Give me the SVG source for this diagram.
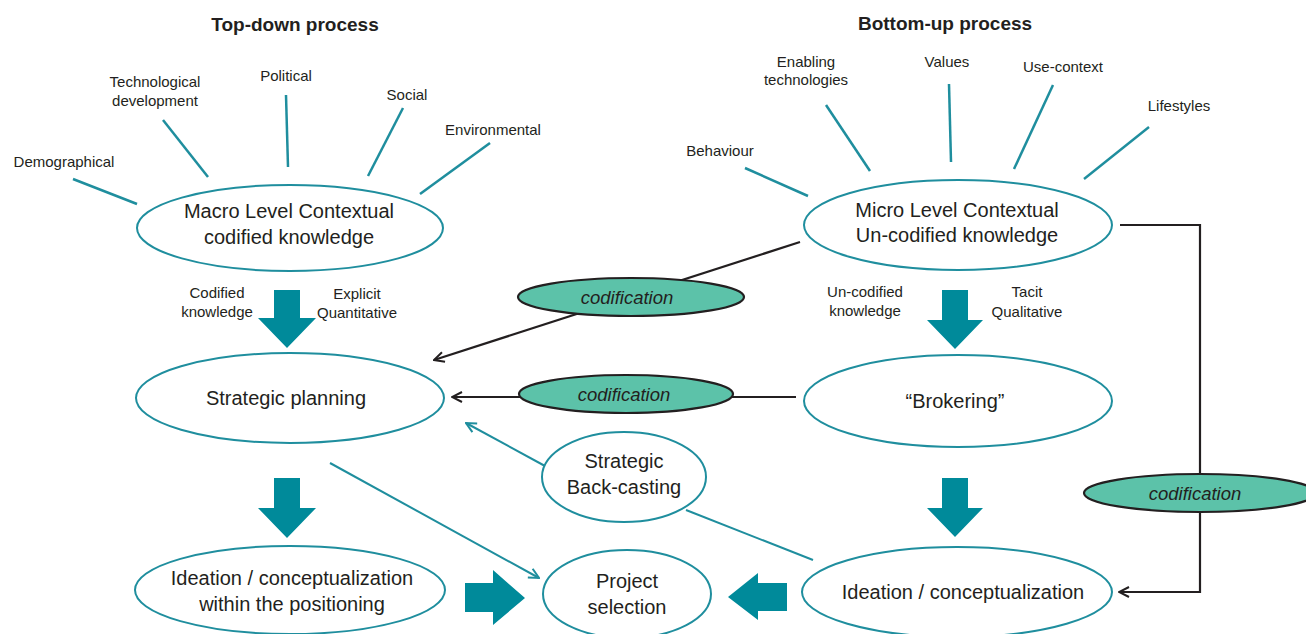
<svg xmlns="http://www.w3.org/2000/svg" width="1306" height="634" viewBox="0 0 1306 634">
<style>
text{font-family:"Liberation Sans",Arial,sans-serif;fill:#231f20;text-anchor:middle}
.title{font-weight:bold;font-size:19px}
.lbl{font-size:15px}
.node{font-size:20px}
.cod{font-size:18.5px;font-style:italic}
.ell{fill:#fff;stroke:#1f8e9e;stroke-width:2}
.codell{fill:#5cc2a9;stroke:#231f20;stroke-width:2.2}
.ray{stroke:#1f8e9e;stroke-width:2.5;fill:none}
.blk{stroke:#231f20;stroke-width:2.2;fill:none}
.tl{stroke:#1f8e9e;stroke-width:2;fill:none}
.big{fill:#008a9a}
</style>
<defs>
<marker id="ab" viewBox="0 0 12 12" refX="11" refY="6" markerWidth="12" markerHeight="12" markerUnits="userSpaceOnUse" orient="auto">
<path d="M1,1 L11,6 L1,11" fill="none" stroke="#231f20" stroke-width="2"/>
</marker>
<marker id="at" viewBox="0 0 12 12" refX="11" refY="6" markerWidth="12" markerHeight="12" markerUnits="userSpaceOnUse" orient="auto">
<path d="M1,1 L11,6 L1,11" fill="none" stroke="#1f8e9e" stroke-width="2"/>
</marker>
</defs>

<text class="title" x="295" y="31">Top-down process</text>
<text class="title" x="945" y="30">Bottom-up process</text>

<g id="factors-left">
<text class="lbl" x="64" y="167">Demographical</text>
<text class="lbl" x="155" y="87">Technological</text>
<text class="lbl" x="155" y="106">development</text>
<text class="lbl" x="286" y="81">Political</text>
<text class="lbl" x="407" y="100">Social</text>
<text class="lbl" x="493" y="135">Environmental</text>
<line class="ray" x1="73" y1="179" x2="137" y2="204"/>
<line class="ray" x1="163" y1="120" x2="208" y2="177"/>
<line class="ray" x1="286" y1="95" x2="288" y2="167"/>
<line class="ray" x1="403" y1="108" x2="368" y2="176"/>
<line class="ray" x1="490" y1="143" x2="420" y2="194"/>
</g>

<g id="factors-right">
<text class="lbl" x="720" y="156">Behaviour</text>
<text class="lbl" x="806" y="67">Enabling</text>
<text class="lbl" x="806" y="85">technologies</text>
<text class="lbl" x="947" y="67">Values</text>
<text class="lbl" x="1063" y="72">Use-context</text>
<text class="lbl" x="1179" y="111">Lifestyles</text>
<line class="ray" x1="745" y1="168" x2="808" y2="196"/>
<line class="ray" x1="826" y1="105" x2="870" y2="171"/>
<line class="ray" x1="949" y1="84" x2="951" y2="162"/>
<line class="ray" x1="1053" y1="85" x2="1014" y2="169"/>
<line class="ray" x1="1149" y1="127" x2="1084" y2="179"/>
</g>

<g id="connectors">
<line class="blk" x1="800" y1="242" x2="434" y2="360" marker-end="url(#ab)"/>
<line class="blk" x1="796" y1="397" x2="452" y2="397" marker-end="url(#ab)"/>
<path class="blk" d="M1120,225 H1200 V592 H1119" marker-end="url(#ab)"/>
<line class="tl" x1="330" y1="463" x2="539" y2="578" marker-end="url(#at)"/>
<line class="tl" x1="545" y1="466" x2="466" y2="423" marker-end="url(#at)"/>
<line class="tl" x1="813" y1="560" x2="686" y2="510"/>
<path class="big" d="M274,290 H300 V318 H316 L287,348 L258,318 H274 Z"/>
<path class="big" d="M274,478 H300 V508 H316 L287,538 L258,508 H274 Z"/>
<path class="big" d="M942,290 H968 V320 H983 L955,349 L927,320 H942 Z"/>
<path class="big" d="M942,478 H968 V508 H983 L955,537 L927,508 H942 Z"/>
<path class="big" d="M465,583 H493 V570 L525,598 L493,625 V612 H465 Z"/>
<path class="big" d="M787,583 H758 V573 L728,597 L758,620 V611 H787 Z"/>
<text class="lbl" x="217" y="298">Codified</text>
<text class="lbl" x="217" y="317">knowledge</text>
<text class="lbl" x="357" y="299">Explicit</text>
<text class="lbl" x="357" y="318">Quantitative</text>
<text class="lbl" x="865" y="297">Un-codified</text>
<text class="lbl" x="865" y="316">knowledge</text>
<text class="lbl" x="1027" y="297">Tacit</text>
<text class="lbl" x="1027" y="317">Qualitative</text>
</g>

<g id="macro">
<ellipse class="ell" cx="290" cy="228" rx="153" ry="43"/>
<text class="node" x="289" y="218">Macro Level Contextual</text>
<text class="node" x="289" y="244">codified knowledge</text>
</g>
<g id="micro">
<ellipse class="ell" cx="958" cy="225" rx="154" ry="45"/>
<text class="node" x="957" y="217">Micro Level Contextual</text>
<text class="node" x="957" y="242">Un-codified knowledge</text>
</g>
<g id="strategic-planning">
<ellipse class="ell" cx="290" cy="398" rx="154" ry="45"/>
<text class="node" x="286" y="405">Strategic planning</text>
</g>
<g id="brokering">
<ellipse class="ell" cx="958" cy="401" rx="154" ry="46"/>
<text class="node" x="955" y="408">“Brokering”</text>
</g>
<g id="backcasting">
<ellipse class="ell" cx="624" cy="477" rx="82" ry="45"/>
<text class="node" x="624" y="468">Strategic</text>
<text class="node" x="624" y="494">Back-casting</text>
</g>
<g id="ideation-left">
<ellipse class="ell" cx="290" cy="590" rx="155" ry="44"/>
<text class="node" x="292" y="585">Ideation / conceptualization</text>
<text class="node" x="292" y="611">within the positioning</text>
</g>
<g id="project-selection">
<ellipse class="ell" cx="627" cy="594" rx="84" ry="44"/>
<text class="node" x="627" y="588">Project</text>
<text class="node" x="627" y="614">selection</text>
</g>
<g id="ideation-right">
<ellipse class="ell" cx="957" cy="592" rx="155" ry="45"/>
<text class="node" x="963" y="599">Ideation / conceptualization</text>
</g>
<g id="codification-1">
<ellipse class="codell" cx="631" cy="297" rx="113" ry="19"/>
<text class="cod" x="627" y="304">codification</text>
</g>
<g id="codification-2">
<ellipse class="codell" cx="626" cy="394" rx="107" ry="19"/>
<text class="cod" x="624" y="401">codification</text>
</g>
<g id="codification-3">
<ellipse class="codell" cx="1200" cy="493" rx="116" ry="19"/>
<text class="cod" x="1195" y="500">codification</text>
</g>
</svg>
